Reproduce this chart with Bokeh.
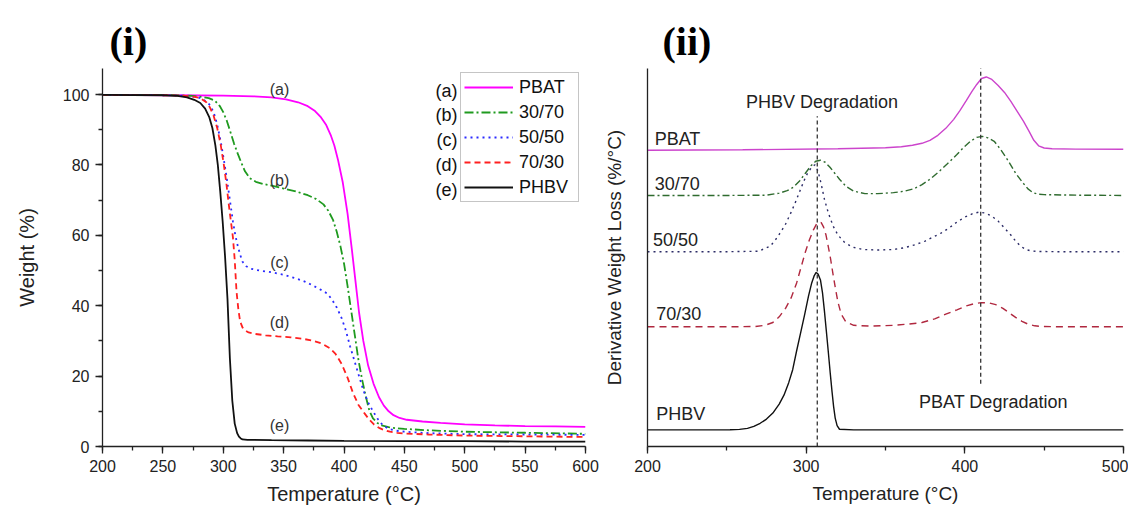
from bokeh.plotting import figure
from bokeh.models import Range1d, Label, Legend, LegendItem, SingleIntervalTicker, FixedTicker
from bokeh.layouts import row
from bokeh.embed import file_html
from bokeh.resources import INLINE

FONT = "Liberation Sans"

# ---------------- (i) TGA weight curves ----------------
pbat_T = [200, 260, 300, 325, 340, 352, 362, 370, 376, 381, 385, 389, 392, 395, 399, 403, 406.5, 409.5, 412.5, 416, 420, 424.5, 429, 433, 437, 441, 446, 452, 465, 480, 500, 525, 550, 575, 600]
pbat_W = [99.9, 99.8, 99.7, 99.5, 99.2, 98.6, 97.8, 96.7, 95.3, 93.5, 91.5, 88.5, 85.5, 81.5, 75, 66, 56, 47, 38, 30, 23, 17.8, 14, 11.6, 10, 8.9, 8.1, 7.6, 7.1, 6.7, 6.3, 6.0, 5.8, 5.7, 5.6]

b3070_T = [200, 260, 275, 283, 288, 293, 297, 300, 303, 306, 309, 312, 315, 318, 322, 327, 333, 340, 350, 360, 370, 377, 383, 387, 391, 394, 397, 400, 403, 406, 409, 412, 415, 418, 421, 424, 428, 432, 437, 443, 450, 470, 500, 550, 600]
b3070_W = [99.9, 99.8, 99.6, 99.3, 99.0, 98.3, 96.8, 95, 92.5, 89.3, 86, 83.2, 80.6, 78.2, 76.2, 75.2, 74.6, 74.1, 73.3, 72.5, 71.4, 70.3, 68.8, 67, 64.3, 61, 57, 52, 45.5, 38.5, 31.5, 24.5, 19, 14.3, 10.2, 8, 6.6, 5.9, 5.5, 5.2, 5.0, 4.6, 4.2, 3.9, 3.6]

b5050_T = [200, 250, 265, 275, 281, 286, 289, 292, 295, 298, 300.5, 303, 305.5, 308, 310, 312, 314, 316, 319, 323, 330, 340, 350, 360, 368, 375, 381, 386, 390, 394, 398, 401.5, 405, 408.5, 412, 416, 420, 424, 428, 432, 437, 443, 450, 470, 500, 550, 600]
b5050_W = [99.9, 99.8, 99.7, 99.4, 99.0, 98, 97, 95, 91.5, 86.5, 81.5, 76, 70, 64, 60, 57, 54.5, 52.5, 51.2, 50.5, 50, 49.5, 48.8, 47.8, 46.8, 45.6, 44.5, 43.5, 41.8, 39.5, 36.5, 33, 28.5, 24.5, 20.5, 16, 12.5, 10, 7.8, 6.1, 5.0, 4.5, 4.2, 3.8, 3.5, 3.4, 3.3]

b7030_T = [200, 250, 265, 275, 281, 286, 289, 292, 295, 298, 300.5, 302.5, 304.5, 306.5, 308, 309.5, 311, 312.5, 314, 316, 318, 321, 326, 335, 345, 356, 366, 375, 382, 388, 393, 398, 403, 407.5, 412, 417, 421, 425, 429, 433, 438, 444, 450, 470, 500, 550, 600]
b7030_W = [99.9, 99.8, 99.7, 99.4, 99.0, 97.8, 96.3, 94, 90.5, 85.5, 80, 75, 69, 63.5, 59.5, 53, 44, 39, 35.5, 33.8, 33, 32.4, 32, 31.6, 31.3, 31.0, 30.6, 30, 29.2, 28, 26.3, 23.5, 19.5, 15.2, 11.8, 9.4, 7.6, 6.2, 5.3, 4.7, 4.2, 3.9, 3.7, 3.4, 3.1, 2.9, 2.7]

phbv_T = [200, 250, 262, 270, 276, 281, 285, 288.5, 291, 293.5, 295.5, 297.5, 299.5, 301.5, 303.5, 305.5, 307.5, 309.5, 311.5, 313, 314.5, 316, 320, 340, 370, 400, 450, 500, 550, 600]
phbv_W = [99.9, 99.8, 99.6, 99.2, 98.5, 97.6, 96, 93.5, 90.5, 85.5, 80, 72.5, 64, 54, 42, 25, 13, 6.5, 3.8, 2.8, 2.3, 2.0, 1.9, 1.8, 1.7, 1.6, 1.5, 1.5, 1.4, 1.4]

series_names = ["PBAT", "30/70", "50/50", "70/30", "PHBV"]
series_tags = ["(a)", "(b)", "(c)", "(d)", "(e)"]

# curve tag positions (T, W)
tag_T = [346.6, 346.6, 346.6, 346.6, 346.6]
tag_W = [101.4, 75.6, 52.4, 35.1, 5.9]

# ---------------- (ii) DTG curves (arbitrary offset units) ----------------
d_pbat_T = [200, 260, 320, 350, 360, 367, 373, 378, 383, 388, 393, 397, 401, 404.5, 407.5, 410.5, 413.5, 417, 421, 425, 429, 433, 437, 440.5, 443.5, 446.5, 450, 455, 470, 500]
d_pbat_y = [297, 297.5, 298.5, 299.5, 300.5, 302, 304, 307, 312, 319, 328, 337, 347, 356, 363, 369, 370.5, 368, 362, 355, 346, 336, 326, 316, 307, 301.5, 299.3, 298.5, 298.2, 298]

d_3070_T = [200, 250, 275, 283, 288, 292, 296, 299.5, 303, 306, 309, 312, 315, 318, 321, 325, 330, 337, 345, 355, 362, 368, 373, 378, 384, 389, 395, 399, 403.5, 407.5, 411, 414.5, 418.5, 422.5, 427.5, 432, 436.5, 440, 443, 446, 450, 470, 500]
d_3070_y = [251.7, 251.7, 252, 254, 256.5, 260, 266.5, 274, 281.5, 286, 287, 285, 280, 274, 268, 261, 256, 253.5, 253.5, 254.5, 256, 258.5, 262.5, 268, 276, 283.5, 292.7, 299.5, 306, 310, 311, 309.5, 306, 298, 286, 274, 264.5, 258, 254.5, 253, 252.5, 252, 251.7]

d_5050_T = [200, 250, 270, 277.5, 281, 284, 287, 290, 293, 296, 298.5, 301, 303.5, 305.5, 307.5, 309.5, 311.5, 314, 317, 320, 324, 329, 336, 345, 355, 362, 369, 375, 380, 385, 390, 395, 400, 405, 409, 413, 417, 421, 425, 429, 432, 435, 438.5, 442, 447, 460, 500]
d_5050_y = [195.3, 195.3, 195.8, 201, 208, 215, 223, 233, 244, 256, 266, 274.5, 280, 282.5, 276, 263, 248, 234, 221, 212, 205, 200, 197.5, 197, 197.5, 199.3, 202.5, 206, 210, 214, 219, 225, 230, 233.5, 235, 234, 231, 226, 219, 212, 206, 201, 197.5, 196, 195.5, 195.3, 195.3]

d_7030_T = [200, 250, 268, 274, 279, 283, 287, 290.5, 294, 297, 299.5, 302, 304.5, 306.5, 308, 309.5, 311, 312.5, 314, 315.5, 317, 318.5, 320, 322, 325, 330, 340, 355, 365, 373, 381, 388, 395, 401, 406, 410.5, 415, 419.5, 424, 428, 432, 436, 440, 444, 448, 460, 500]
d_7030_y = [120, 120, 120.3, 121.5, 124.3, 130, 138.5, 149, 164, 181, 195, 207, 217, 223, 225, 224.5, 220, 212, 200, 187, 172, 158, 145, 133, 125, 121.5, 120.7, 121.5, 122.8, 124.3, 128, 132.7, 137, 141, 143.3, 144.3, 144, 142.2, 138.5, 134, 129.5, 125.5, 122.6, 121, 120.4, 120, 120]

d_phbv_T = [200, 240, 252, 258, 263, 267, 271, 275, 279, 283, 286, 289, 291.5, 294, 296.5, 299, 301.5, 303.5, 305, 306.3, 307.5, 309, 310.3, 311.5, 312.7, 314, 315.2, 316.3, 317.3, 318.3, 319.5, 321, 330, 400, 500]
d_phbv_y = [16.7, 16.7, 16.8, 17.2, 18.2, 20.2, 23.3, 27.5, 33.5, 42.5, 51.5, 64, 77, 96, 114, 132, 151, 164, 171, 174.5, 173, 167, 154, 136, 116, 94, 73, 55, 40, 28.5, 21, 17.3, 16.7, 16.7, 16.7]

# reference lines (peak temperatures) and their vertical extents
peak_T = [307, 410]
peak_y0 = [0, 63]
peak_y1 = [331, 394.3]

# curve names on the DTG panel (T, y)
dtg_name_T = [204.5, 204.5, 203.5, 205.5, 205.5]
dtg_name_y = [308, 263, 207, 133, 32.7]

# ---------------- styles ----------------
colors1 = ["#ff00ff", "#1f9a1f", "#2a2aff", "#ff2020", "#111111"]
dashes1 = ["solid", "9 3 2 3", "2 4", "6 4", "solid"]
colors2 = ["#cc44cc", "#2f6b2f", "#2b2b66", "#b0283f", "#111111"]
dashes2 = ["solid", "7 3 2 3", "2 4", "7 5", "solid"]


def style_axes(p, ticker_x):
    p.outline_line_color = None
    p.xgrid.visible = False
    p.ygrid.visible = False
    for ax in [p.xaxis[0], p.yaxis[0]]:
        ax.axis_line_color = "#222222"
        ax.axis_line_width = 1.3
        ax.major_tick_line_color = "#222222"
        ax.minor_tick_line_color = "#222222"
        ax.major_tick_line_width = 1.3
        ax.minor_tick_line_width = 1.3
        ax.major_tick_in = 0
        ax.major_tick_out = 7
        ax.minor_tick_in = 0
        ax.minor_tick_out = 4
        ax.major_label_text_font = FONT
        ax.major_label_text_font_size = "16px"
        ax.major_label_text_color = "#222222"
        ax.axis_label_text_font = FONT
        ax.axis_label_text_font_style = "normal"
        ax.axis_label_text_color = "#222222"
        ax.major_label_standoff = 6
    p.xaxis[0].ticker = ticker_x


def style_title(p, txt, offset):
    p.title.text = txt
    p.title.text_font = "Liberation Serif"
    p.title.text_font_style = "bold"
    p.title.text_font_size = "40px"
    p.title.text_color = "#000000"
    p.title.align = "left"
    p.title.offset = offset
    p.title.text_line_height = 1.4


# ---- panel (i)
p1 = figure(width=600, height=508, x_range=Range1d(200, 600), y_range=Range1d(0, 107.4),
            output_backend="svg", toolbar_location=None,
            min_border_left=102, min_border_right=15, min_border_top=68, min_border_bottom=61)
style_axes(p1, SingleIntervalTicker(interval=50, num_minor_ticks=2))
style_title(p1, "(i)", 7)
p1.yaxis[0].ticker = SingleIntervalTicker(interval=20, num_minor_ticks=2)
p1.xaxis.axis_label = "Temperature (°C)"
p1.yaxis.axis_label = "Weight (%)"
p1.xaxis.axis_label_text_font_size = "20px"
p1.yaxis.axis_label_text_font_size = "20px"
p1.xaxis.axis_label_standoff = 8
p1.yaxis.axis_label_standoff = 22

tga = [(pbat_T, pbat_W), (b3070_T, b3070_W), (b5050_T, b5050_W), (b7030_T, b7030_W), (phbv_T, phbv_W)]
items = []
for i, (tx, wy) in enumerate(tga):
    r = p1.line(tx, wy, line_color=colors1[i], line_width=1.8, line_dash=dashes1[i])
    items.append(LegendItem(label=series_names[i], renderers=[r]))

leg = Legend(items=items, location=(358, 244), orientation="vertical",
             label_text_font=FONT, label_text_font_size="18px", label_text_color="#111111",
             glyph_width=49, glyph_height=22, label_height=22, label_width=56,
             label_standoff=6, spacing=3, padding=3, margin=0,
             border_line_color="#8c8c8c", border_line_width=1.5,
             background_fill_color="white", background_fill_alpha=1.0)
p1.add_layout(leg)

# tags left of the legend box
leg_tag_W = [101.1, 94.1, 87.0, 79.9, 72.8]
for i, t in enumerate(series_tags):
    p1.add_layout(Label(x=494.0, y=leg_tag_W[i], text=t, text_align="right", text_baseline="middle",
                        text_font=FONT, text_font_size="18px", text_color="#111111"))
# tags on curves
for i, t in enumerate(series_tags):
    p1.add_layout(Label(x=tag_T[i], y=tag_W[i], text=t, text_align="center", text_baseline="middle",
                        text_font=FONT, text_font_size="16px", text_color="#333333"))

# ---- panel (ii)
p2 = figure(width=528, height=508, x_range=Range1d(200, 500), y_range=Range1d(0, 379),
            output_backend="svg", toolbar_location=None,
            min_border_left=47, min_border_right=5, min_border_top=67, min_border_bottom=62)
style_axes(p2, SingleIntervalTicker(interval=100, num_minor_ticks=2))
style_title(p2, "(ii)", 15)
p2.yaxis[0].ticker = FixedTicker(ticks=[])
p2.yaxis.major_tick_out = 0
p2.yaxis.minor_tick_out = 0
p2.xaxis.axis_label = "Temperature (°C)"
p2.yaxis.axis_label = "Derivative Weight Loss (%/°C)"
p2.xaxis.axis_label_text_font_size = "19px"
p2.yaxis.axis_label_text_font_size = "19px"
p2.xaxis.axis_label_standoff = 8
p2.yaxis.axis_label_standoff = 23

dtg = [(d_pbat_T, d_pbat_y), (d_3070_T, d_3070_y), (d_5050_T, d_5050_y), (d_7030_T, d_7030_y), (d_phbv_T, d_phbv_y)]
for i, (tx, yy) in enumerate(dtg):
    p2.line(tx, yy, line_color=colors2[i], line_width=1.4, line_dash=dashes2[i])

p2.segment(x0=peak_T, y0=peak_y0, x1=peak_T, y1=peak_y1, line_color="#333333",
           line_width=1.3, line_dash="4 3")

for i, nm in enumerate(series_names):
    p2.add_layout(Label(x=dtg_name_T[i], y=dtg_name_y[i], text=nm, text_align="left", text_baseline="middle",
                        text_font=FONT, text_font_size="18px", text_color="#222222"))
p2.add_layout(Label(x=310, y=345, text="PHBV Degradation", text_align="center", text_baseline="middle",
                    text_font=FONT, text_font_size="18px", text_color="#222222"))
p2.add_layout(Label(x=418, y=44.3, text="PBAT Degradation", text_align="center", text_baseline="middle",
                    text_font=FONT, text_font_size="18px", text_color="#222222"))

layout = row(p1, p2)
open("out.html", "w").write(file_html(layout, INLINE))
